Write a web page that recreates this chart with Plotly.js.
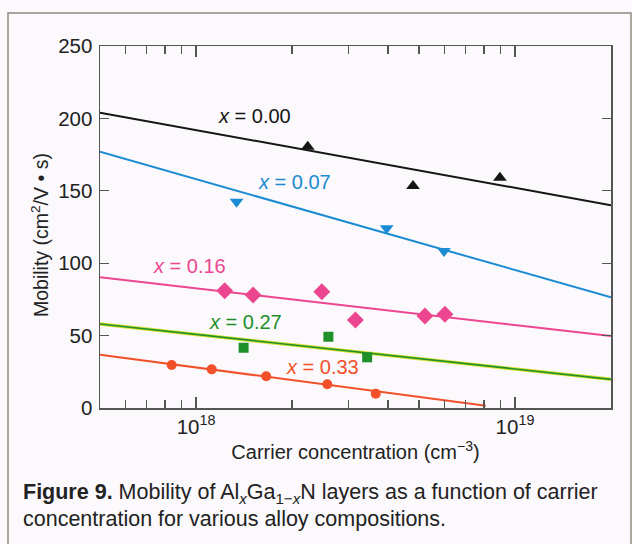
<!DOCTYPE html>
<html>
<head>
<meta charset="utf-8">
<script src="https://cdn.plot.ly/plotly-3.0.1.min.js"></script>
<style>html,body{margin:0;padding:0;background:#fbf9fc;}#chart{width:632px;height:544px;}</style>
</head>
<body>
<div id="chart"></div>
<script>
// Carrier concentration (cm^-3) and mobility (cm^2/V·s)
const x000 = [2.24e18, 4.79e18, 8.97e18];
const y000 = [180.4, 153.3, 159.0];
const x007 = [1.34e18, 3.96e18, 5.99e18];
const y007 = [142.5, 124.1, 108.4];
const x016 = [1.23e18, 1.51e18, 2.48e18, 3.16e18, 5.22e18, 6.03e18];
const y016 = [81.0, 78.0, 80.3, 60.8, 63.5, 64.7];
const x027 = [1.41e18, 2.60e18, 3.44e18];
const y027 = [41.6, 49.2, 35.0];
const x033 = [8.39e17, 1.12e18, 1.66e18, 2.58e18, 3.66e18];
const y033 = [29.7, 26.7, 21.9, 16.4, 9.9];

// fitted lines
const fitX = [5e17, 2e19];
const fit000 = [204, 140];
const fit007 = [177, 76.4];
const fit016 = [90.3, 49.7];
const fit027 = [58, 19.8];
const fitX033 = [5e17, 8.1e18];
const fit033 = [36.8, 1.5];

const majorTicks = [1e18, 1e19];
const majorText = ['10<sup>18</sup>', '10<sup>19</sup>'];
const minorTicks = [6e17, 7e17, 8e17, 9e17, 2e18, 3e18, 4e18, 5e18, 6e18, 7e18, 8e18, 9e18];
const yTicks = [0, 50, 100, 150, 200, 250];

const cBlack = '#151515', cBlue = '#1b8bd3', cPink = '#ec4690', cGreen = '#1f8f2a', cRed = '#f2502a';

function line(x, y, color, w) {
  return {x: x, y: y, mode: 'lines', line: {color: color, width: w}, hoverinfo: 'skip'};
}
function pts(x, y, color, symbol, size) {
  return {x: x, y: y, mode: 'markers', marker: {color: color, symbol: symbol, size: size}};
}

const data = [
  line(fitX, fit000, cBlack, 2),
  line(fitX, fit007, cBlue, 2),
  line(fitX, fit016, cPink, 2),
  line(fitX, fit027, '#d8e030', 3.5),
  line(fitX, fit027, cGreen, 1.6),
  line(fitX033, fit033, cRed, 2),
  pts(x000, y000, cBlack, 'triangle-up', 12),
  pts(x007, y007, cBlue, 'triangle-down', 12),
  pts(x016, y016, cPink, 'diamond', 13),
  pts(x027, y027, cGreen, 'square', 10),
  pts(x033, y033, cRed, 'circle', 10)
];

const FAM = 'Liberation Sans, Arial, sans-serif';
const font = {family: FAM, size: 20, color: '#222'};

function lab(text, lx, ly, color) {
  return {text: text, x: lx, y: ly, xref: 'x', yref: 'y', showarrow: false,
    font: {family: FAM, size: 20, color: color}};
}

const layout = {
  width: 632, height: 544,
  margin: {l: 100, r: 21, t: 46, b: 136},
  paper_bgcolor: '#fbf9fc', plot_bgcolor: '#fbf9fc',
  showlegend: false,
  font: font,
  xaxis: {
    type: 'log', range: [Math.log10(5e17), Math.log10(2e19)],
    tickmode: 'array', tickvals: majorTicks, ticktext: majorText,
    ticks: 'inside', ticklen: 11, tickwidth: 1.3, tickcolor: '#555',
    minor: {tickmode: 'array', tickvals: minorTicks, ticks: 'inside', ticklen: 8, tickwidth: 1.3, tickcolor: '#555', showgrid: false},
    showline: true, linecolor: '#555', linewidth: 1.5, mirror: 'ticks',
    showgrid: false, zeroline: false,
    tickfont: {size: 20.5, color: '#222'},
    title: {text: 'Carrier concentration (cm<sup>−3</sup>)', font: {size: 20, color: '#222'}, standoff: 8}
  },
  yaxis: {
    range: [0, 250], tickmode: 'array', tickvals: yTicks,
    ticks: 'inside', ticklen: 9, tickwidth: 1.3, tickcolor: '#555',
    showline: true, linecolor: '#555', linewidth: 1.5, mirror: 'ticks',
    showgrid: false, zeroline: false,
    tickfont: {size: 20.5, color: '#222'},
    ticklabelstandoff: 2
  },
  annotations: [
    lab('<i>x</i> = 0.00', 18.182, 201.7, cBlack),
    lab('<i>x</i> = 0.07', 18.308, 156.3, cBlue),
    lab('<i>x</i> = 0.16', 17.981, 98.1, cPink),
    lab('<i>x</i> = 0.27', 18.154, 59.4, cGreen),
    lab('<i>x</i> = 0.33', 18.395, 28.3, cRed),
    {text: 'Mobility (cm<sup>2</sup>/V • s)', textangle: -90,
      xref: 'paper', yref: 'paper', x: (40 - 100) / 511, y: (408 - 235) / 362,
      xanchor: 'center', yanchor: 'middle', showarrow: false, font: {size: 19.5, color: '#222'}},
    {text: '<b>Figure 9.</b> Mobility of Al<sub><i>x</i></sub>Ga<sub>1−<i>x</i></sub>N layers as a function of carrier',
      xref: 'paper', yref: 'paper', x: (21 - 100) / 511, y: (408 - 493) / 362,
      xanchor: 'left', yanchor: 'middle', showarrow: false, font: {size: 21.5, color: '#222'}},
    {text: 'concentration for various alloy compositions.',
      xref: 'paper', yref: 'paper', x: (21 - 100) / 511, y: (408 - 519) / 362,
      xanchor: 'left', yanchor: 'middle', showarrow: false, font: {size: 21.5, color: '#222'}}
  ],
  shapes: [
    {type: 'rect', xref: 'paper', yref: 'paper', x0: (8 - 100) / 511, x1: (631 - 100) / 511,
      y0: (408 - 13) / 362, y1: (408 - 570) / 362, line: {color: '#8e887c', width: 1.5}, fillcolor: 'rgba(0,0,0,0)', layer: 'below'}
  ]
};

Plotly.newPlot('chart', data, layout, {displayModeBar: false, staticPlot: true});
</script>
</body>
</html>
